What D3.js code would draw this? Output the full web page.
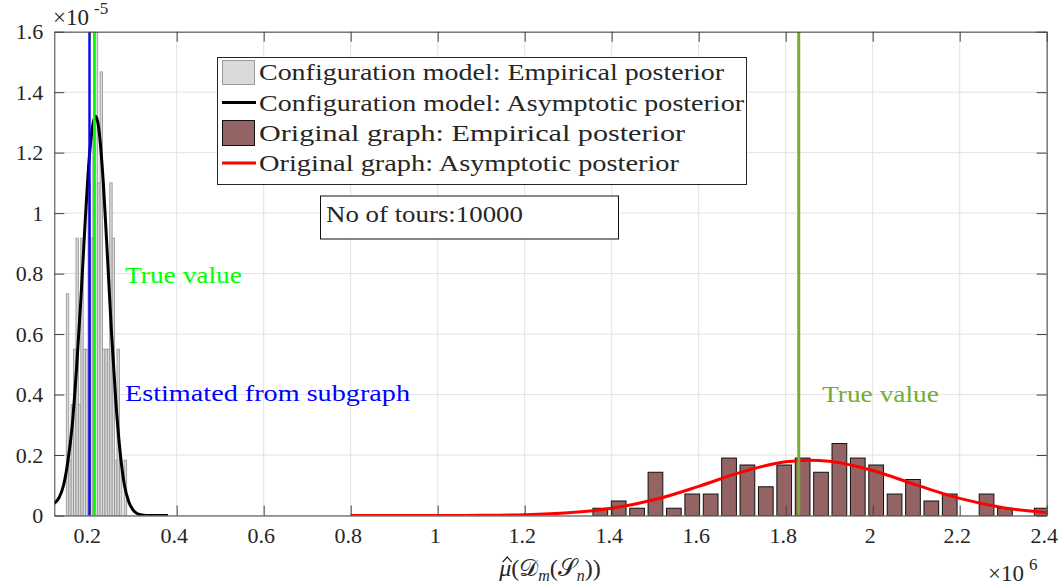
<!DOCTYPE html>
<html>
<head>
<meta charset="utf-8">
<script src="https://cdn.jsdelivr.net/npm/d3@7"></script>
<style>
  body { margin: 0; background: #fff; }
  svg text { font-family: "Liberation Serif", "DejaVu Serif", serif; fill: #262626; }
</style>
</head>
<body>
<svg id="chart" width="1060" height="585"></svg>
<script>
// x values are in units of 1e6, densities in units of 1e-5

// configuration model: empirical posterior (histogram)
const configBinCenters = [0.1491, 0.1547, 0.1602, 0.1657, 0.1713, 0.1768, 0.1824, 0.1879, 0.1935, 0.1990,
    0.2046, 0.2101, 0.2157, 0.2212, 0.2267, 0.2323, 0.2378, 0.2434, 0.2489, 0.2545,
    0.2600, 0.2656, 0.2711, 0.2766, 0.2822];
const configDensity = [0.733, 0.183, 0.367, 0.550, 0.917, 0.367, 0.917, 0.550, 0.550, 1.100,
    0.917, 1.283, 1.650, 1.100, 1.467, 0.550, 0.550, 0.550, 1.100, 0.917,
    0.183, 0.550, 0.183, 0, 0.183];
const configBinWidth = 0.005545;

// configuration model: asymptotic posterior (curve)
const configCurveX = [0.119, 0.13, 0.14, 0.15, 0.16, 0.17, 0.18, 0.19, 0.20, 0.21, 0.214, 0.22,
    0.23, 0.24, 0.25, 0.26, 0.27, 0.28, 0.29, 0.30, 0.31, 0.32, 0.34, 0.38];
const configCurveY = [0.04, 0.06, 0.10, 0.18, 0.30, 0.49, 0.72, 0.98, 1.20, 1.31, 1.32, 1.29,
    1.13, 0.88, 0.61, 0.38, 0.21, 0.10, 0.045, 0.018, 0.006, 0.002, 0, 0];

// original graph: empirical posterior (histogram)
const origBinCenters = [1.3738, 1.4161, 1.4584, 1.5006, 1.5429, 1.5852, 1.6275, 1.6698, 1.7120, 1.7543,
    1.7966, 1.8389, 1.8812, 1.9234, 1.9657, 2.0080, 2.0503, 2.0926, 2.1348, 2.1771,
    2.2194, 2.2617, 2.3040, 2.3462, 2.3885];
const origDensity = [0.024, 0.048, 0.024, 0.143, 0.024, 0.071, 0.071, 0.190, 0.167, 0.095,
    0.167, 0.190, 0.143, 0.238, 0.190, 0.167, 0.071, 0.119, 0.048, 0.071,
    0, 0.071, 0.024, 0, 0.024];
const origBinWidth = 0.04228;

// original graph: asymptotic posterior (curve)
const origCurveX = [0.8, 0.9, 1.0, 1.1, 1.2, 1.3, 1.4, 1.5, 1.6, 1.7, 1.8, 1.855, 1.9,
    2.0, 2.1, 2.2, 2.3, 2.4];
const origCurveY = [0, 0, 0.0001, 0.0007, 0.0026, 0.0087, 0.0237, 0.0527, 0.0963, 0.1444, 0.1776, 0.183, 0.1794,
    0.1487, 0.1011, 0.0565, 0.0259, 0.0097];

// reference lines
const trueValueConfig = 0.2105;
const estimatedFromSubgraph = 0.1996;
const trueValueOrig = 1.830;

const xTicks = [0.2, 0.4, 0.6, 0.8, 1.0, 1.2, 1.4, 1.6, 1.8, 2.0, 2.2, 2.4];
const xTickLabels = ['0.2', '0.4', '0.6', '0.8', '1', '1.2', '1.4', '1.6', '1.8', '2', '2.2', '2.4'];
const yTicks = [0, 0.2, 0.4, 0.6, 0.8, 1.0, 1.2, 1.4, 1.6];
const yTickLabels = ['0', '0.2', '0.4', '0.6', '0.8', '1', '1.2', '1.4', '1.6'];

const legendLabels = [
    'Configuration model: Empirical posterior',
    'Configuration model: Asymptotic posterior',
    'Original graph: Empirical posterior',
    'Original graph: Asymptotic posterior'
];

const pLeft = 54.3, pRight = 1046.7, pTop = 31.7, pBottom = 515.5;
const svg = d3.select('#chart');

const x = d3.scaleLinear().domain([0.1187, 2.4]).range([pLeft, pRight]);
const y = d3.scaleLinear().domain([0, 1.6]).range([pBottom, pTop]);

svg.append('defs').append('clipPath').attr('id', 'plot')
    .append('rect')
    .attr('x', pLeft).attr('y', pTop)
    .attr('width', pRight - pLeft).attr('height', pBottom - pTop);

// grid
let grid = svg.append('g');
grid.selectAll('.gx').data(xTicks).enter().append('line')
    .attr('x1', d => x(d)).attr('x2', d => x(d))
    .attr('y1', pTop).attr('y2', pBottom)
    .attr('stroke', '#e3e3e3').attr('stroke-width', 1);
grid.selectAll('.gy').data(yTicks).enter().append('line')
    .attr('x1', pLeft).attr('x2', pRight)
    .attr('y1', d => y(d)).attr('y2', d => y(d))
    .attr('stroke', '#e3e3e3').attr('stroke-width', 1);

let plot = svg.append('g').attr('clip-path', 'url(#plot)');

// gray histogram
plot.append('g').selectAll('rect')
    .data(configBinCenters.map((c, i) => ({ c: c, v: configDensity[i] })))
    .enter().append('rect')
    .attr('x', d => x(d.c - configBinWidth / 2))
    .attr('width', d => x(d.c + configBinWidth / 2) - x(d.c - configBinWidth / 2))
    .attr('y', d => y(d.v))
    .attr('height', d => y(0) - y(d.v))
    .attr('fill', '#dadada')
    .attr('stroke', '#9a9a9a').attr('stroke-width', 0.9);

// brown histogram
const barW = origBinWidth * 0.8;
plot.append('g').selectAll('rect')
    .data(origBinCenters.map((c, i) => ({ c: c, v: origDensity[i] })))
    .enter().append('rect')
    .attr('x', d => x(d.c - barW / 2))
    .attr('width', d => x(d.c + barW / 2) - x(d.c - barW / 2))
    .attr('y', d => y(d.v))
    .attr('height', d => y(0) - y(d.v))
    .attr('fill', '#946464')
    .attr('stroke', '#111').attr('stroke-width', 1);

// curves
let line = d3.line()
    .x(d => x(d[0]))
    .y(d => y(d[1]))
    .curve(d3.curveMonotoneX);

plot.append('path')
    .datum(configCurveX.map((v, i) => [v, configCurveY[i]]))
    .attr('d', line)
    .attr('fill', 'none').attr('stroke', '#000').attr('stroke-width', 3);

plot.append('path')
    .datum(origCurveX.map((v, i) => [v, origCurveY[i]]))
    .attr('d', line)
    .attr('fill', 'none').attr('stroke', '#ff0000').attr('stroke-width', 3);

// vertical reference lines
const vlines = [
    { v: estimatedFromSubgraph, color: '#0000ff', w: 2.4 },
    { v: trueValueConfig, color: '#00ff00', w: 2.4 },
    { v: trueValueOrig, color: '#77ac30', w: 3 }
];
plot.selectAll('.vline').data(vlines).enter().append('line')
    .attr('x1', d => x(d.v)).attr('x2', d => x(d.v))
    .attr('y1', pTop).attr('y2', pBottom)
    .attr('stroke', d => d.color).attr('stroke-width', d => d.w);

// axes (ticks point inward, box on all sides)
const axisColor = '#404040';
let styleAxis = g => {
    g.select('.domain').attr('stroke', axisColor);
    g.selectAll('.tick line').attr('stroke', axisColor);
    g.selectAll('.tick text').attr('fill', '#262626')
        .style('font-family', '"Liberation Serif", serif').style('font-size', '22px');
};

svg.append('g').attr('transform', `translate(0,${pBottom})`)
    .call(d3.axisBottom(x).tickValues(xTicks).tickFormat((d, i) => xTickLabels[i])
        .tickSizeInner(-10).tickSizeOuter(0).tickPadding(12))
    .call(styleAxis)
    .call(g => g.selectAll('.tick text').attr('dx', '-3'));

svg.append('g').attr('transform', `translate(0,${pTop})`)
    .call(d3.axisTop(x).tickValues(xTicks).tickFormat('')
        .tickSizeInner(-10).tickSizeOuter(0))
    .call(styleAxis);

svg.append('g').attr('transform', `translate(${pLeft},0)`)
    .call(d3.axisLeft(y).tickValues(yTicks).tickFormat((d, i) => yTickLabels[i])
        .tickSizeInner(-10).tickSizeOuter(0).tickPadding(11))
    .call(styleAxis);

svg.append('g').attr('transform', `translate(${pRight},0)`)
    .call(d3.axisRight(y).tickValues(yTicks).tickFormat('')
        .tickSizeInner(-10).tickSizeOuter(0))
    .call(styleAxis);

// exponent labels
let expY = svg.append('text').attr('x', 53).attr('y', 25).style('font-size', '23px');
expY.append('tspan').text('\u00d710');
expY.append('tspan').attr('dx', 5).attr('dy', -11).style('font-size', '17px').text('-5');

let expX = svg.append('text').attr('x', 988).attr('y', 581).style('font-size', '23px');
expX.append('tspan').text('\u00d710');
expX.append('tspan').attr('dx', 5).attr('dy', -11).style('font-size', '17px').text('6');

// x label: mu-hat(D_m(S_n))
let xl = svg.append('text').attr('y', 576).style('font-size', '24px');
xl.append('tspan').style('font-style', 'italic').text('\u03bc');
xl.append('tspan').text('(\ud835\udc9f');
xl.append('tspan').attr('dy', 5).style('font-size', '16px').style('font-style', 'italic').text('m');
xl.append('tspan').attr('dy', -5).text('(\ud835\udcae');
xl.append('tspan').attr('dy', 5).style('font-size', '16px').style('font-style', 'italic').text('n');
xl.append('tspan').attr('dy', -5).text('))');
let xlW = xl.node().getComputedTextLength();
let xlStart = 550 - xlW / 2;
xl.attr('x', xlStart);
let muW = xl.node().getSubStringLength(0, 1);
// hat over mu, drawn as a small caret
let hatX = xlStart + muW / 2 + 2;
svg.append('path')
    .attr('d', `M${hatX - 4.5},562 L${hatX},557 L${hatX + 4.5},562`)
    .attr('fill', 'none').attr('stroke', '#262626').attr('stroke-width', 1.2);

// annotations
svg.append('text').attr('x', 125).attr('y', 283)
    .attr('textLength', 117).attr('lengthAdjust', 'spacingAndGlyphs')
    .style('font-size', '23px').style('fill', '#00ff00').text('True value');
svg.append('text').attr('x', 125).attr('y', 401)
    .attr('textLength', 285).attr('lengthAdjust', 'spacingAndGlyphs')
    .style('font-size', '23px').style('fill', '#0000ff').text('Estimated from subgraph');
svg.append('text').attr('x', 822).attr('y', 402)
    .attr('textLength', 117).attr('lengthAdjust', 'spacingAndGlyphs')
    .style('font-size', '23px').style('fill', '#77ac30').text('True value');

// tours box
svg.append('rect').attr('x', 320.5).attr('y', 196).attr('width', 298).attr('height', 43)
    .attr('fill', '#fff').attr('stroke', '#111').attr('stroke-width', 1);
svg.append('text').attr('x', 326).attr('y', 222)
    .attr('textLength', 197).attr('lengthAdjust', 'spacingAndGlyphs')
    .style('font-size', '23px').text('No of tours:10000');

// legend
let legend = svg.append('g');
legend.append('rect').attr('x', 217.5).attr('y', 57.5).attr('width', 529).attr('height', 127)
    .attr('fill', '#fff').attr('stroke', '#262626').attr('stroke-width', 1);

const rowY = [72, 102.5, 133, 163];
const legendTextW = [465, 485, 426, 420];
legend.append('rect').attr('x', 222.5).attr('y', 60.5).attr('width', 32).attr('height', 24)
    .attr('fill', '#dadada').attr('stroke', '#9a9a9a');
legend.append('line').attr('x1', 222).attr('x2', 256).attr('y1', rowY[1]).attr('y2', rowY[1])
    .attr('stroke', '#000').attr('stroke-width', 3);
legend.append('rect').attr('x', 222.5).attr('y', 120.5).attr('width', 32).attr('height', 25)
    .attr('fill', '#946464').attr('stroke', '#111');
legend.append('line').attr('x1', 222).attr('x2', 256).attr('y1', rowY[3]).attr('y2', rowY[3])
    .attr('stroke', '#ff0000').attr('stroke-width', 3);

legend.selectAll('.lt').data(legendLabels).enter().append('text')
    .attr('x', 259).attr('y', (d, i) => rowY[i] + 8)
    .attr('textLength', (d, i) => legendTextW[i]).attr('lengthAdjust', 'spacingAndGlyphs')
    .style('font-size', '24px')
    .text(d => d);
</script>
</body>
</html>
